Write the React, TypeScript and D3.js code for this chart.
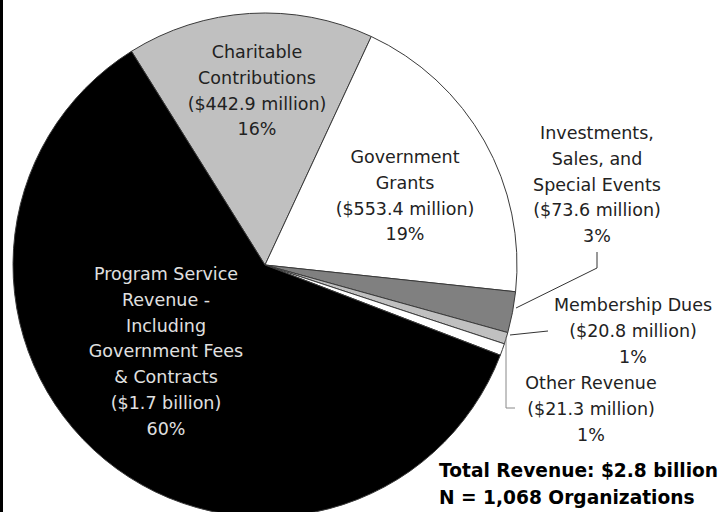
import React from "react";
import * as d3 from "d3";

const categories = [
  "Charitable Contributions",
  "Government Grants",
  "Investments, Sales, and Special Events",
  "Membership Dues",
  "Other Revenue",
  "Program Service Revenue",
];
const values = [442.9, 553.4, 73.6, 20.8, 21.3, 1688];
const fills = ["#c0c0c0", "#ffffff", "#808080", "#c0c0c0", "#ffffff", "#000000"];

const labelLines: string[][] = [
  ["Charitable", "Contributions", "($442.9 million)", "16%"],
  ["Government", "Grants", "($553.4 million)", "19%"],
  ["Investments,", "Sales, and", "Special Events", "($73.6 million)", "3%"],
  ["Membership Dues", "($20.8 million)", "1%"],
  ["Other Revenue", "($21.3 million)", "1%"],
  ["Program Service", "Revenue -", "Including", "Government Fees", "& Contracts", "($1.7 billion)", "60%"],
];
const labelPos: [number, number][] = [
  [257, 58],
  [405, 163],
  [597, 139],
  [633, 311],
  [591, 389],
  [166, 280],
];
const totalLines = ["Total Revenue: $2.8 billion", "N = 1,068 Organizations"];

export default function App() {
  const W = 723, H = 512;
  const cx = 265, cy = 265, r = 252;
  const start = (-32 * Math.PI) / 180;
  const pie = d3.pie<number>().sort(null).value((d) => d).startAngle(start).endAngle(start + 2 * Math.PI);
  const arcs = pie(values);
  const arc = d3.arc<d3.PieArcDatum<number>>().innerRadius(0).outerRadius(r);
  const lh = 25.8;
  const font = "'DejaVu Sans', Verdana, sans-serif";
  return (
    <svg width={W} height={H} style={{ position: "absolute", left: 0, top: 0, background: "#fff" }}>
      <rect x={0} y={0} width={W} height={H} fill="#fff" />
      <g transform={`translate(${cx},${cy})`}>
        {arcs.map((a, i) => (
          <path key={categories[i]} d={arc(a) || ""} fill={fills[i]} stroke="#3a3a3a" strokeWidth={1} />
        ))}
      </g>
      {/* leader lines */}
      <polyline points="597,252 597,268 516,308" fill="none" stroke="#333" strokeWidth={1} />
      <polyline points="548,331 510,335" fill="none" stroke="#333" strokeWidth={1} />
      <polyline points="506,337 506,408 515,408" fill="none" stroke="#888" strokeWidth={1} />
      {labelLines.map((lines, i) => (
        <text
          key={categories[i]}
          x={labelPos[i][0]}
          y={labelPos[i][1]}
          textAnchor="middle"
          fontFamily={font}
          fontSize={17.5}
          fill={i === 5 ? "#e0e0e0" : "#222"}
        >
          {lines.map((l, j) => (
            <tspan key={j} x={labelPos[i][0]} y={labelPos[i][1] + j * lh}>
              {l}
            </tspan>
          ))}
        </text>
      ))}
      {totalLines.map((l, j) => (
        <text key={l} x={439} y={477 + j * 27} fontFamily={font} fontWeight="bold" fontSize={18.6} fill="#000">
          {l}
        </text>
      ))}
      <rect x={0} y={0} width={3} height={H} fill="#000" />
    </svg>
  );
}
